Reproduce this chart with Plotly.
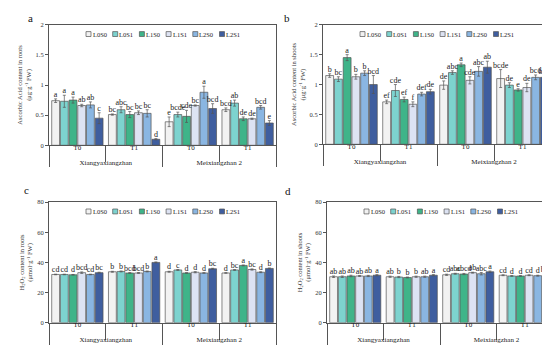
import plotly.graph_objects as go
from plotly.subplots import make_subplots

# ---------------- data ----------------
varieties = ["Xiangyaxiangzhan", "Xiangyaxiangzhan", "Meixiangzhan 2", "Meixiangzhan 2"]
times = ["T0", "T1", "T0", "T1"]
treatments = ["L0S0", "L0S1", "L1S0", "L1S1", "L2S0", "L2S1"]
colors = ["#f2f2f2", "#7dd3cf", "#3fb489", "#dde3f3", "#8ab6e2", "#3f5e9f"]

# rows = groups (Xiangya T0, Xiangya T1, Meixiang T0, Meixiang T1), columns = treatments
asa_root_mean = [[0.74, 0.73, 0.75, 0.66, 0.67, 0.45],
                 [0.51, 0.59, 0.51, 0.54, 0.53, 0.10],
                 [0.39, 0.51, 0.48, 0.66, 0.88, 0.61],
                 [0.59, 0.70, 0.44, 0.44, 0.63, 0.37]]
asa_root_err = [[0.03, 0.10, 0.05, 0.02, 0.05, 0.09],
                [0.01, 0.05, 0.05, 0.03, 0.06, 0.01],
                [0.08, 0.04, 0.10, 0.01, 0.10, 0.08],
                [0.03, 0.05, 0.03, 0.01, 0.03, 0.04]]
asa_root_letters = [["a", "a", "a", "ab", "ab", "c"],
                    ["bc", "abc", "bc", "bc", "bc", "d"],
                    ["e", "bcde", "cde", "bc", "a", "bcd"],
                    ["bcd", "ab", "de", "de", "bcd", "e"]]

asa_shoot_mean = [[1.15, 1.09, 1.45, 1.13, 1.19, 1.00],
                  [0.71, 0.90, 0.75, 0.67, 0.84, 0.88],
                  [0.99, 1.20, 1.33, 1.07, 1.22, 1.29],
                  [1.10, 0.99, 0.91, 0.95, 1.12, 1.12]]
asa_shoot_err = [[0.03, 0.04, 0.05, 0.04, 0.04, 0.15],
                 [0.03, 0.10, 0.04, 0.04, 0.03, 0.04],
                 [0.07, 0.03, 0.03, 0.06, 0.08, 0.10],
                 [0.15, 0.04, 0.02, 0.07, 0.04, 0.03]]
asa_shoot_letters = [["b", "bc", "a", "b", "b", "bcd"],
                     ["ef", "cde", "ef", "f", "def", "de"],
                     ["de", "abc", "a", "cde", "abc", "ab"],
                     ["bcde", "de", "e", "de", "bcd", "bcd"]]

h2o2_root_mean = [[32.0, 32.0, 31.8, 33.2, 32.0, 33.2],
                  [33.8, 34.0, 33.0, 33.0, 34.0, 40.0],
                  [33.8, 35.0, 33.0, 33.5, 33.0, 35.8],
                  [33.0, 35.0, 38.0, 35.3, 33.5, 36.0]]
h2o2_root_err = [[0.2, 0.2, 0.2, 0.5, 0.2, 0.3],
                 [0.3, 0.3, 0.2, 0.3, 0.3, 0.3],
                 [0.3, 0.3, 0.2, 0.4, 0.2, 0.3],
                 [0.2, 0.3, 0.3, 0.4, 0.3, 0.3]]
h2o2_root_letters = [["cd", "cd", "d", "bcd", "cd", "bc"],
                     ["b", "b", "bcd", "bcd", "b", "a"],
                     ["d", "c", "d", "d", "d", "bc"],
                     ["d", "bc", "a", "bc", "d", "b"]]

h2o2_shoot_mean = [[30.5, 30.5, 31.0, 31.0, 31.0, 31.5],
                   [30.5, 30.3, 30.0, 30.5, 30.5, 31.5],
                   [31.8, 32.5, 32.3, 33.2, 32.5, 33.8],
                   [31.5, 31.0, 31.0, 31.5, 31.2, 32.0]]
h2o2_shoot_err = [[0.5, 0.5, 0.5, 0.3, 0.4, 0.4],
                  [0.4, 0.4, 0.3, 0.4, 0.4, 0.4],
                  [0.4, 0.3, 0.4, 0.3, 0.8, 0.5],
                  [0.3, 0.3, 0.3, 0.3, 0.3, 0.4]]
h2o2_shoot_letters = [["ab", "ab", "ab", "ab", "ab", "a"],
                      ["ab", "b", "b", "b", "ab", "a"],
                      ["cd", "abc", "abcd", "ab", "abc", "a"],
                      ["cd", "d", "d", "cd", "d", "bcd"]]

panel_labels = ["a", "b", "c", "d"]
y_titles = ["Ascorbic Acid content in roots<br>(μg·g<sup>-1</sup> FW)",
            "Ascorbic Acid content in shoots<br>(μg·g<sup>-1</sup> FW)",
            "H<sub>2</sub>O<sub>2</sub> content in roots<br>(μmol·g<sup>-1</sup> FW)",
            "H<sub>2</sub>O<sub>2</sub> content in shoots<br>(μmol·g<sup>-1</sup> FW)"]
y_ranges = [[0, 2], [0, 2], [0, 80], [0, 80]]
y_dticks = [0.5, 0.5, 20, 20]

panels = [(asa_root_mean, asa_root_err, asa_root_letters),
          (asa_shoot_mean, asa_shoot_err, asa_shoot_letters),
          (h2o2_root_mean, h2o2_root_err, h2o2_root_letters),
          (h2o2_shoot_mean, h2o2_shoot_err, h2o2_shoot_letters)]

# ---------------- layout geometry ----------------
W, H = 550, 352
FONT = "Liberation Serif"
GAP = 0.08
x_domains = [[41 / W, 268 / W], [315 / W, 543 / W], [41 / W, 268 / W], [319 / W, 545 / W]]
y_domains = [[1 - 136 / H, 1 - 13 / H], [1 - 135 / H, 1 - 13 / H],
             [1 - 317 / H, 1 - 194 / H], [1 - 317 / H, 1 - 194 / H]]
label_pos = [(22, 6), (279, 6), (18, 182), (280, 183)]

fig = make_subplots(rows=2, cols=2)
xcat = [varieties, times]

for p, (means, errs, letters) in enumerate(panels):
    row, col = p // 2 + 1, p % 2 + 1
    for j, name in enumerate(treatments):
        m = [g[j] for g in means]
        e = [g[j] for g in errs]
        t = [g[j] for g in letters]
        fig.add_trace(go.Bar(
            x=xcat, y=m, name=name, offsetgroup=name,
            marker=dict(color=colors[j], line=dict(color="#555555", width=0.7)),
            error_y=dict(type="data", array=e, color="#555555", thickness=0.7, width=1.5),
            showlegend=False, hoverinfo="skip",
        ), row=row, col=col)
        fig.add_trace(go.Scatter(
            x=xcat, y=[mi + ei for mi, ei in zip(m, e)], mode="text",
            offsetgroup=name, text=t, textposition="top center", cliponaxis=False,
            textfont=dict(family=FONT, size=8, color="#222222"),
            showlegend=False, hoverinfo="skip",
        ), row=row, col=col)

    sfx = "" if p == 0 else str(p + 1)
    fig.layout["xaxis" + sfx].update(
        domain=x_domains[p], type="multicategory", showline=True, linecolor="#555555",
        linewidth=1, mirror=True, ticks="outside", tickson="boundaries", ticklen=16,
        ticklabelstandoff=-5,
        tickcolor="#555555", showdividers=True, dividercolor="#555555", dividerwidth=1,
        tickfont=dict(family=FONT, size=7, color="#222222"), showgrid=False,
    )
    fig.layout["yaxis" + sfx].update(
        domain=y_domains[p], range=y_ranges[p], dtick=y_dticks[p], showline=True,
        linecolor="#555555", linewidth=1, mirror=True, ticks="outside", ticklen=3,
        tickcolor="#555555", showgrid=False, zeroline=False,
        tickfont=dict(family=FONT, size=6.5, color="#333333"),
        title=dict(text=y_titles[p], font=dict(family=FONT, size=6.5, color="#333333"),
                   standoff=3),
    )

    # legend (drawn inside each panel)
    xref = "x" + sfx + " domain"
    yref = "y" + sfx + " domain"
    dw = (x_domains[p][1] - x_domains[p][0]) * W
    dh = (y_domains[p][1] - y_domains[p][0]) * H
    cy = 1 - 9.5 / dh
    for j, name in enumerate(treatments):
        x0 = (37 + 26.7 * j) / dw
        fig.add_shape(type="rect", xref=xref, yref=yref,
                      x0=x0, x1=x0 + 5 / dw, y0=cy - 2.5 / dh, y1=cy + 2.5 / dh,
                      fillcolor=colors[j], line=dict(color="#555555", width=0.7))
        fig.add_annotation(xref=xref, yref=yref, x=x0 + 5.5 / dw, y=cy, text=name,
                           showarrow=False, xanchor="left", yanchor="middle",
                           borderpad=0, font=dict(family=FONT, size=6.5, color="#222222"))

    lx, ly = label_pos[p]
    fig.add_annotation(xref="paper", yref="paper", x=lx / W, y=1 - ly / H,
                       text=panel_labels[p], showarrow=False, xanchor="center",
                       yanchor="middle", font=dict(family=FONT, size=11, color="#111111"))

fig.update_layout(
    width=W, height=H, margin=dict(l=0, r=0, t=0, b=0),
    paper_bgcolor="white", plot_bgcolor="white",
    barmode="group", bargap=GAP, bargroupgap=0.1,
    scattermode="group", scattergap=GAP,
    font=dict(family=FONT),
)

fig.write_html("out.html")
